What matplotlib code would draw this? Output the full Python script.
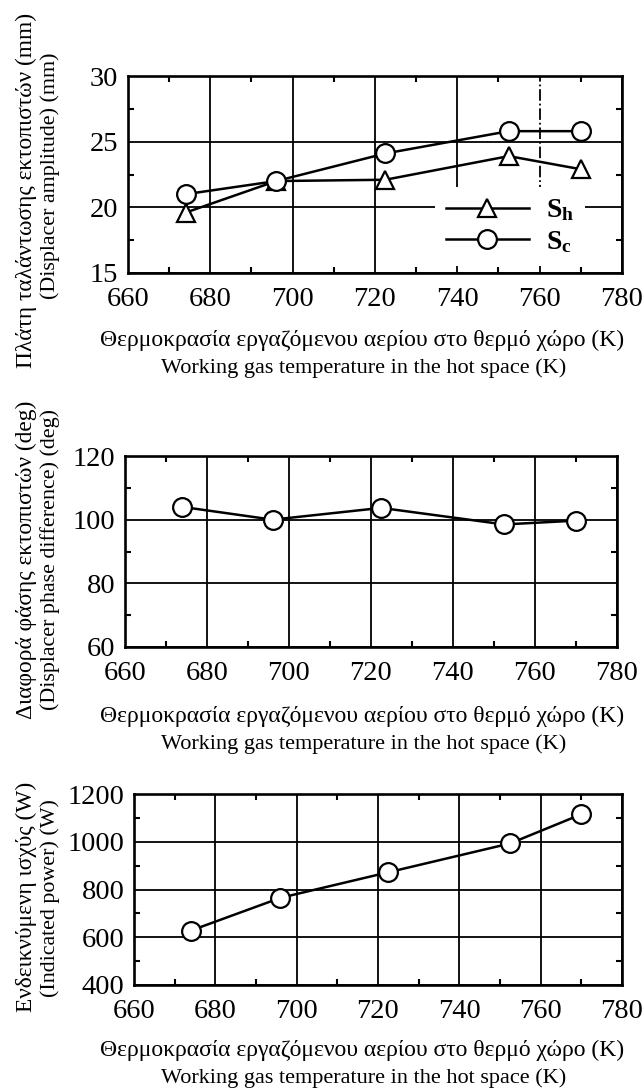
import numpy as np
import matplotlib
matplotlib.use("Agg")
import matplotlib.pyplot as plt
from matplotlib.ticker import MultipleLocator

plt.rcParams["font.family"] = ["Liberation Serif", "DejaVu Serif"]
plt.rcParams["mathtext.fontset"] = "custom"
plt.rcParams["mathtext.rm"] = "Liberation Serif"
plt.rcParams["mathtext.bf"] = "Liberation Serif:bold"

# data
temp_K = [674, 696, 722.5, 752.5, 770]
amp_sh = [19.6, 22.0, 22.1, 23.9, 22.9]
amp_sc = [21.0, 22.0, 24.1, 25.8, 25.8]
phase_deg = [104.0, 100.0, 103.7, 98.5, 99.7]
power_W = [628, 765, 872, 993, 1115]

x_ticks = [660, 680, 700, 720, 740, 760, 780]
amp_ticks = [15, 20, 25, 30]
phase_ticks = [60, 80, 100, 120]
power_ticks = [400, 600, 800, 1000, 1200]

xlabel_gr = "Θερμοκρασία εργαζόμενου αερίου στο θερμό χώρο (K)"
xlabel_en = "Working gas temperature in the hot space (K)"
ylabels = [
    ("Πλάτη ταλάντωσης εκτοπιστών (mm)", "(Displacer amplitude) (mm)"),
    ("Διαφορά φάσης εκτοπιστών (deg)", "(Displacer phase difference) (deg)"),
    ("Ενδεικνύμενη ισχύς (W)", "(Indicated power) (W)"),
]

W, H = 644, 1089
fig = plt.figure(figsize=(W / 100, H / 100), dpi=100)


def px_axes(left, right, top, bottom):
    return fig.add_axes([left / W, 1 - bottom / H, (right - left) / W, (bottom - top) / H])


def style_axes(ax, yticks, yminor):
    ax.set_xlim(x_ticks[0], x_ticks[-1])
    ax.set_ylim(yticks[0], yticks[-1])
    ax.set_xticks(x_ticks)
    ax.set_yticks(yticks)
    ax.xaxis.set_minor_locator(MultipleLocator(10))
    ax.yaxis.set_minor_locator(MultipleLocator(yminor))
    ax.tick_params(which="both", direction="in", top=True, right=True, width=1.5)
    ax.tick_params(which="major", length=0, labelsize=20.5)
    ax.tick_params(axis="x", which="major", pad=10)
    ax.tick_params(axis="y", which="major", pad=7)
    ax.tick_params(which="minor", length=4)
    ax.grid(True, color="black", lw=1.3)
    for s in ax.spines.values():
        s.set_linewidth(1.9)


def add_labels(gr_y, en_y, ylab, ylab_y):
    fig.text(362 / W, 1 - gr_y / H, xlabel_gr, fontsize=17, ha="center", va="center")
    fig.text(364 / W, 1 - en_y / H, xlabel_en, fontsize=16, ha="center", va="center")
    fig.text(26 / W, 1 - ylab_y[0] / H, ylab[0], fontsize=16.8, rotation=90,
             ha="center", va="center")
    fig.text(50 / W, 1 - ylab_y[1] / H, ylab[1], fontsize=15.8, rotation=90,
             ha="center", va="center")


mk = dict(color="black", lw=1.8, mfc="white", mec="black", mew=1.6, zorder=3)

# displacer amplitude
ax1 = px_axes(128, 622, 76, 273)
style_axes(ax1, amp_ticks, 2.5)
ax1.plot(temp_K, amp_sh, marker="^", ms=12.5, label=r"$\mathbf{S_h}$", **mk)
ax1.plot(temp_K, amp_sc, marker="o", ms=13.5, label=r"$\mathbf{S_c}$", **mk)
ax1.get_xgridlines()[5].set_linestyle("-.")
leg = ax1.legend(loc="lower right", bbox_to_anchor=(0.925, 0.035), borderaxespad=0,
                 fontsize=20, handlelength=3.0, handletextpad=0.6, labelspacing=0.2,
                 borderpad=0.4, fancybox=False, framealpha=1)
leg.get_frame().set_edgecolor("none")
leg.set_zorder(5)
add_labels(340, 368, ylabels[0], (190, 176))

# phase difference
ax2 = px_axes(125, 617, 456, 647)
style_axes(ax2, phase_ticks, 10)
ax2.plot(temp_K, phase_deg, marker="o", ms=13.5, **mk)
add_labels(716, 744, ylabels[1], (560, 560))

# indicated power
ax3 = px_axes(134, 622, 794, 985)
style_axes(ax3, power_ticks, 100)
ax3.plot(temp_K, power_W, marker="o", ms=13.5, **mk)
add_labels(1050, 1078, ylabels[2], (897, 898))

fig.savefig("out.png", dpi=100, facecolor="white")
